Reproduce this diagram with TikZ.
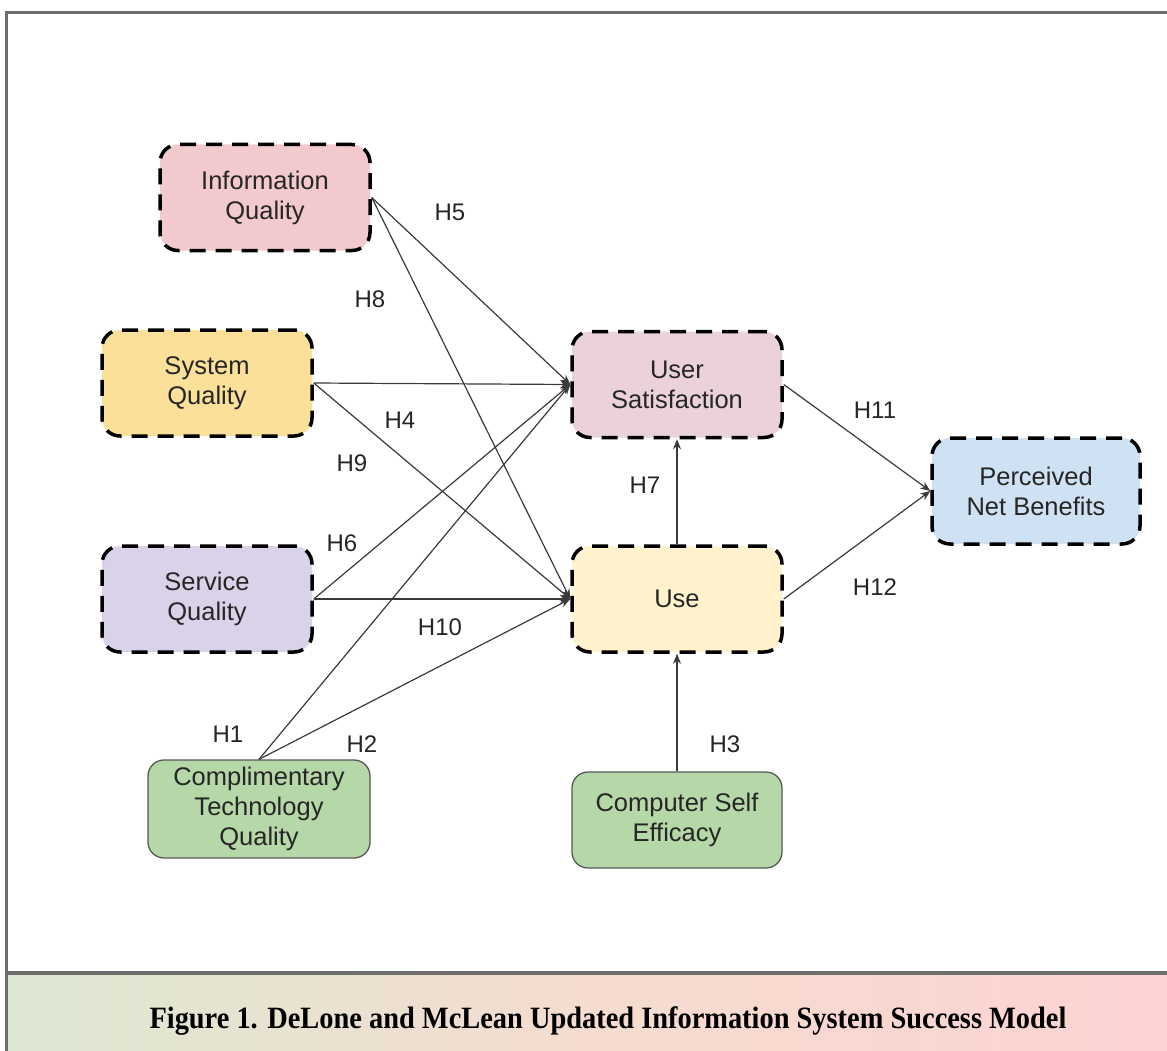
\documentclass[tikz,border=0pt]{standalone}
\usepackage{fontspec}
\setmainfont{Liberation Sans}
\newfontfamily\capfont{Liberation Serif}
\usetikzlibrary{arrows.meta}
\definecolor{infoC}{HTML}{F2C9CC}
\definecolor{sysC}{HTML}{FBE09A}
\definecolor{servC}{HTML}{D9D2E9}
\definecolor{usC}{HTML}{EAD1DC}
\definecolor{useC}{HTML}{FFF2CC}
\definecolor{pnbC}{HTML}{CFE2F3}
\definecolor{greenC}{HTML}{B6D7A8}
\definecolor{txtC}{HTML}{262626}
\definecolor{lineC}{HTML}{3A3A3A}
\definecolor{frameC}{HTML}{6E6E6E}
\definecolor{capL}{HTML}{DDE8D2}
\definecolor{capM}{HTML}{F5DCCF}
\definecolor{capR}{HTML}{FDD3D3}
\tikzset{
  dbox/.style={draw=black, line width=3.5pt, dash pattern=on 16pt off 10pt,
    rounded corners=18pt, minimum width=210pt, minimum height=106pt,
    align=center, text=txtC, font=\fontsize{25.5}{30}\selectfont, inner sep=0pt},
  gbox/.style={draw=frameC!80!black, line width=1.3pt, fill=greenC,
    rounded corners=16pt, align=center, text=txtC,
    font=\fontsize{25.5}{30}\selectfont, inner sep=0pt},
  conn/.style={draw=lineC, line width=1.2pt, -{Stealth[length=10pt,width=8pt]}},
  hlab/.style={text=txtC, font=\fontsize{24}{28}\selectfont, inner sep=0pt}
}
\begin{document}
\begin{tikzpicture}[x=1pt,y=-1pt]
\useasboundingbox (0,0) rectangle (1167,1051);
\fill[white] (0,0) rectangle (1167,1051);
% caption band
\shade[left color=capL, right color=capR, middle color=capM] (6,975) rectangle (1167,1051);
% frame
\draw[frameC, line width=3.5pt] (5,12.5) -- (1167,12.5);
\draw[frameC, line width=3pt] (6.5,11) -- (6.5,1051);
\draw[frameC, line width=4pt] (5,973) -- (1167,973);
% caption
\node (cap) at (608,1021) {\resizebox{917pt}{\height}{\capfont\bfseries\fontsize{31}{34}\selectfont Figure 1. DeLone and McLean Updated Information System Success Model}};
% nodes
\node[dbox, fill=infoC] (iq) at (265,197.5) {Information\\Quality};
\node[dbox, fill=sysC] (sq) at (207,383) {System\\Quality};
\node[dbox, fill=servC] (svq) at (207,599) {Service\\Quality};
\node[dbox, fill=usC] (us) at (677,384.5) {User\\Satisfaction};
\node[dbox, fill=useC] (use) at (677,599) {Use};
\node[dbox, fill=pnbC, minimum width=208pt] (pnb) at (1036,491) {Perceived\\Net Benefits};
\node[gbox, minimum width=222pt, minimum height=98pt] (ctq) at (259,809) {Complimentary\\Technology\\Quality};
\node[gbox, minimum width=210pt, minimum height=96pt] (cse) at (677,820) {Computer Self\\Efficacy};
% connectors
\draw[conn] (iq.east) -- (us.west);
\draw[conn] (iq.east) -- (use.west);
\draw[conn] (sq.east) -- (us.west);
\draw[conn] (sq.east) -- (use.west);
\draw[conn] (svq.east) -- (us.west);
\draw[conn] (svq.east) -- (use.west);
\draw[conn] (ctq.north) -- (us.west);
\draw[conn] (ctq.north) -- (use.west);
\draw[conn] (use.north) -- (us.south);
\draw[conn] (cse.north) -- (use.south);
\draw[conn] (us.east) -- (pnb.west);
\draw[conn] (use.east) -- (pnb.west);
% labels
\node[hlab] (h5) at (450,212) {H5};
\node[hlab] (h8) at (370,299) {H8};
\node[hlab] (h4) at (400,420) {H4};
\node[hlab] (h9) at (352,463) {H9};
\node[hlab] (h6) at (342,543) {H6};
\node[hlab] (h10) at (440,627) {H10};
\node[hlab] (h1) at (228,734) {H1};
\node[hlab] (h2) at (362,744) {H2};
\node[hlab] (h3) at (725,744) {H3};
\node[hlab] (h7) at (645,485) {H7};
\node[hlab] (h11) at (875,410) {H11};
\node[hlab] (h12) at (875,587) {H12};
\end{tikzpicture}
\end{document}
